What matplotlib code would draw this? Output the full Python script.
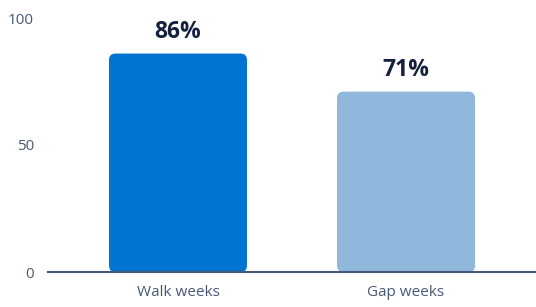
import matplotlib.pyplot as plt
from matplotlib.patches import FancyBboxPatch

categories = ["Walk weeks", "Gap weeks"]
values = [86, 71]
labels = ["86%", "71%"]
colors = ["#0074d0", "#8fb8dc"]
yticks = [0, 50, 100]

plt.rcParams['font.family'] = ['Open Sans', 'DejaVu Sans']

fig = plt.figure(figsize=(5.36, 3.07), dpi=100)
ax = fig.add_axes([48 / 536, 35 / 307, 1 - 48 / 536, (272 - 18) / 307])

x = list(range(len(categories)))
width = 0.605
bars = ax.bar(x, values, width=width, color=colors)

# swap plain bars for rounded ones
aspect = (2.54 / 228)
for b, c in zip(bars, colors):
    b.set_visible(False)
    p = FancyBboxPatch((b.get_x(), b.get_y()), b.get_width(), b.get_height(),
                       boxstyle="round,pad=0,rounding_size=0.028",
                       mutation_aspect=1 / aspect, facecolor=c, edgecolor="none")
    ax.add_patch(p)

for xi, v, t in zip(x, values, labels):
    ax.annotate(t, (xi, v), xytext=(0, 7), textcoords="offset points",
                ha="center", va="bottom", fontsize=16.5, fontweight="bold",
                color="#16213e")

ax.set_xlim(-0.57, 1.57)
ax.set_ylim(0, 100)
ax.set_yticks(yticks)
ax.set_xticks(x)
ax.set_xticklabels(categories)
ax.tick_params(axis="y", length=0, pad=10, labelsize=11, labelcolor="#4a5878")
ax.tick_params(axis="x", length=0, pad=9, labelsize=11, labelcolor="#4a5878")
for s in ["top", "right", "left"]:
    ax.spines[s].set_visible(False)
ax.spines["bottom"].set_color("#4a5878")
ax.spines["bottom"].set_linewidth(1.5)
ax.spines["bottom"].set_zorder(3)

fig.savefig("out.png", dpi=100)
